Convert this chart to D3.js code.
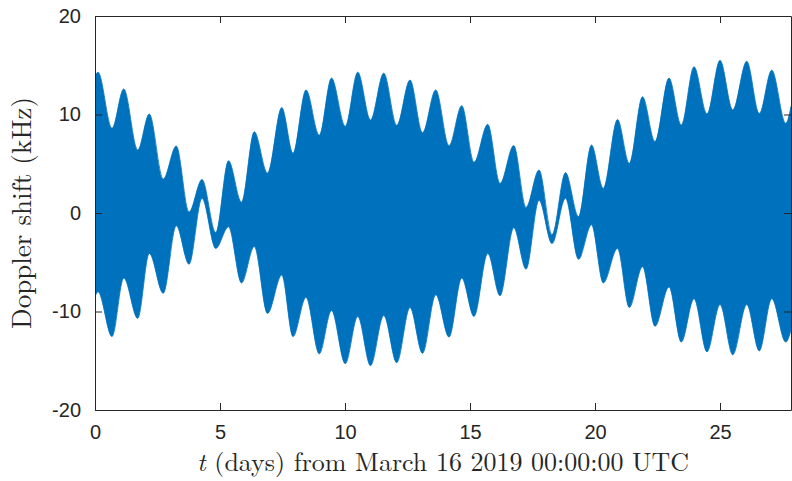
<!DOCTYPE html>
<html>
<head>
<meta charset="utf-8">
<script src="https://cdn.jsdelivr.net/npm/d3@7"></script>
<style>
  html, body { margin: 0; padding: 0; background: #fff; }
  svg { display: block; }
</style>
</head>
<body>
<svg id="chart" width="792" height="481"></svg>
<script>
// envelope of the Doppler signal, read at each half-day extremum
const days = [0, 0.12, 0.68, 1.15, 1.71, 2.17, 2.73, 3.25, 3.76, 4.28, 4.83, 5.34, 5.86, 6.37,
  6.9, 7.47, 7.92, 8.44, 8.97, 9.46, 10.01, 10.51, 11.02, 11.55, 12.07, 12.6, 13.1, 13.63,
  14.16, 14.67, 15.16, 15.71, 16.2, 16.75, 17.24, 17.76, 18.28, 18.82, 19.34, 19.86, 20.33,
  20.9, 21.37, 21.9, 22.4, 22.96, 23.45, 23.96, 24.48, 25.0, 25.51, 26.07, 26.57, 27.07, 27.63, 27.84];
const upperKHz = [13.9, 14.3, 8.6, 12.6, 6.4, 10.05, 3.45, 6.8, 0.1, 3.4, -2.0, 5.3, 1.1, 8.25,
  4.05, 10.7, 6.06, 12.5, 7.9, 13.7, 8.8, 14.3, 9.44, 14.2, 8.9, 13.5, 8.15, 12.5,
  6.83, 10.9, 5.15, 9.0, 3.0, 6.85, 0.57, 4.37, -2.2, 4.1, -0.37, 6.9, 2.5,
  9.5, 5.04, 11.8, 7.24, 13.7, 8.93, 14.85, 10.05, 15.5, 10.46, 15.4, 10.1, 14.5, 9.1, 10.8];
const lowerKHz = [-8.5, -8.0, -12.55, -6.6, -10.7, -4.1, -8.15, -1.3, -5.2, 1.5, -3.6, -1.4, -7.1, -3.4,
  -10.2, -6.3, -12.55, -8.56, -14.3, -9.9, -15.3, -10.5, -15.5, -10.4, -15.2, -9.6, -14.25, -8.3,
  -12.6, -6.6, -10.5, -4.1, -8.4, -1.5, -5.7, 1.3, -3.1, 1.5, -4.7, -1.2, -7.1,
  -3.6, -9.6, -5.45, -11.5, -7.5, -13.1, -8.7, -14.1, -9.3, -14.4, -9.3, -14.0, -8.7, -13.1, -11.9];

const xTicks = [0, 5, 10, 15, 20, 25];
const yTicks = [-20, -10, 0, 10, 20];

const svg = d3.select('#chart');
const m = { left: 95, right: 791, top: 16, bottom: 410 };

const x = d3.scaleLinear().domain([0, 27.84]).range([m.left, m.right]);
const y = d3.scaleLinear().domain([-20, 20]).range([m.bottom, m.top]);

const rows = days.map((t, i) => ({ t, hi: upperKHz[i], lo: lowerKHz[i] }));

svg.append('clipPath').attr('id', 'plotClip')
  .append('rect')
  .attr('x', m.left).attr('y', m.top)
  .attr('width', m.right - m.left).attr('height', m.bottom - m.top);

const area = d3.area()
  .x(d => x(d.t))
  .y0(d => y(d.lo))
  .y1(d => y(d.hi))
  .curve(d3.curveMonotoneX);

svg.append('path')
  .datum(rows)
  .attr('clip-path', 'url(#plotClip)')
  .attr('d', area)
  .attr('fill', '#0072bd')
  .attr('stroke', '#0072bd')
  .attr('stroke-width', 0.8);

// axes box, ticks pointing inwards
const axisColor = '#262626';
const tickLen = 7;
const plain = d => String(d); // hyphen minus like the original, not U+2212
function styleAxis(g) {
  g.selectAll('.domain').attr('stroke', axisColor).attr('stroke-width', 1).attr('fill', 'none');
  g.selectAll('.tick line').attr('stroke', axisColor);
  g.selectAll('.tick text')
    .attr('fill', axisColor)
    .style('font-family', '"Liberation Sans", Arial, Helvetica, sans-serif')
    .style('font-size', '20px');
}

svg.append('g')
  .attr('transform', `translate(0,${m.bottom})`)
  .call(d3.axisBottom(x).tickValues(xTicks).tickFormat(plain).tickSizeInner(-tickLen).tickSizeOuter(0).tickPadding(15))
  .call(styleAxis);
svg.append('g')
  .attr('transform', `translate(0,${m.top})`)
  .call(d3.axisTop(x).tickValues(xTicks).tickSizeInner(-tickLen).tickSizeOuter(0).tickFormat(''))
  .call(styleAxis);
svg.append('g')
  .attr('transform', `translate(${m.left},0)`)
  .call(d3.axisLeft(y).tickValues(yTicks).tickFormat(plain).tickSizeInner(-tickLen).tickSizeOuter(0).tickPadding(14))
  .call(styleAxis);
svg.append('g')
  .attr('transform', `translate(${m.right},0)`)
  .call(d3.axisRight(y).tickValues(yTicks).tickSizeInner(-tickLen).tickSizeOuter(0).tickFormat(''))
  .call(styleAxis);

// axis titles (LaTeX-like serif)
const serif = '"Latin Modern Roman", "CMU Serif", "DejaVu Serif", "Liberation Serif", serif';

const xLabel = svg.append('text')
  .attr('x', (m.left + m.right) / 2)
  .attr('y', 471)
  .attr('text-anchor', 'middle')
  .attr('fill', axisColor)
  .style('font-family', serif)
  .style('font-size', '22px');
xLabel.append('tspan').style('font-style', 'italic').text('t');
xLabel.append('tspan').text(' (days) from March 16 2019 00:00:00 UTC');

const yLabel = svg.append('text')
  .attr('transform', `translate(31,${(m.top + m.bottom) / 2}) rotate(-90)`)
  .attr('text-anchor', 'middle')
  .attr('fill', axisColor)
  .style('font-family', serif)
  .style('font-size', '22px')
  .text('Doppler shift (kHz)');

// fit title widths to the measured widths in the reference
function fitWidth(sel, target) {
  const w = sel.node().getComputedTextLength();
  const fs = parseFloat(sel.style('font-size'));
  if (w > 0) sel.style('font-size', (fs * target / w).toFixed(2) + 'px');
}
fitWidth(xLabel, 492);
fitWidth(yLabel, 232);
</script>
</body>
</html>
